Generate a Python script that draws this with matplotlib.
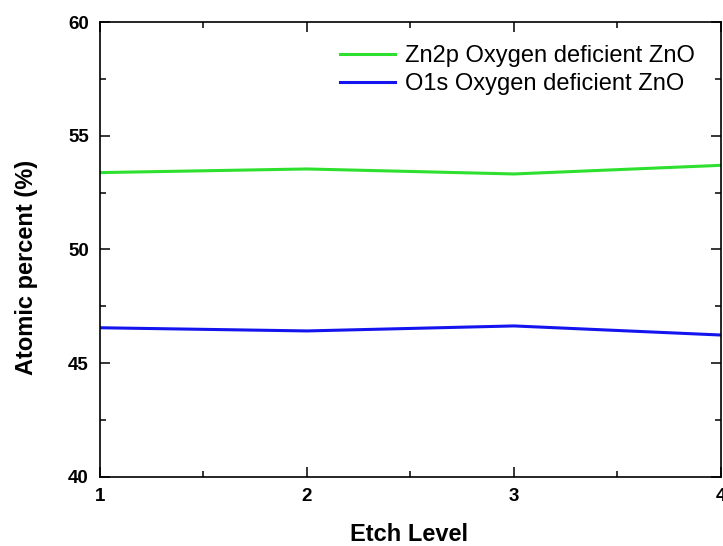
import matplotlib.pyplot as plt
from matplotlib.ticker import MultipleLocator

# atomic percent per etch level, oxygen deficient ZnO
etch_level = [1, 2, 3, 4]
zn2p = [53.38, 53.54, 53.32, 53.70]
o1s = [46.56, 46.42, 46.64, 46.24]
labels = ["Zn2p Oxygen deficient ZnO", "O1s Oxygen deficient ZnO"]

plt.rcParams["font.family"] = ["Liberation Sans", "DejaVu Sans"]

fig = plt.figure(figsize=(7.23, 5.46), dpi=100)
ax = fig.add_axes([0.1383, 0.1264, 0.8589, 0.8333])

ax.plot(etch_level, zn2p, color="#2ee02e", lw=2.2, label=labels[0])
ax.plot(etch_level, o1s, color="#1414ee", lw=2.2, label=labels[1])

ax.set_xlim(1, 4)
ax.set_ylim(40, 60)
ax.xaxis.set_major_locator(MultipleLocator(1))
ax.xaxis.set_minor_locator(MultipleLocator(0.5))
ax.yaxis.set_major_locator(MultipleLocator(5))
ax.yaxis.set_minor_locator(MultipleLocator(2.5))
ax.tick_params(which="both", direction="in", top=True, right=True, width=1.1)
ax.tick_params(which="major", length=7, labelsize=13.5, pad=8)
ax.tick_params(which="minor", length=4)
for lab in ax.get_xticklabels() + ax.get_yticklabels():
    lab.set_fontweight("bold")
for sp in ax.spines.values():
    sp.set_linewidth(1.2)

ax.set_xlabel("Etch Level", fontsize=17, fontweight="bold", va="center")
ax.xaxis.set_label_coords(0.4975, -0.127)
ax.set_ylabel("Atomic percent (%)", fontsize=17, fontweight="bold", va="center")
ax.yaxis.set_label_coords(-0.119, 0.46)

ax.legend(loc="upper right", bbox_to_anchor=(0.985, 0.985), frameon=False,
          fontsize=17, handlelength=2.3, handletextpad=0.45, labelspacing=0.25,
          borderaxespad=0.3)

fig.savefig("out.png", dpi=100)
